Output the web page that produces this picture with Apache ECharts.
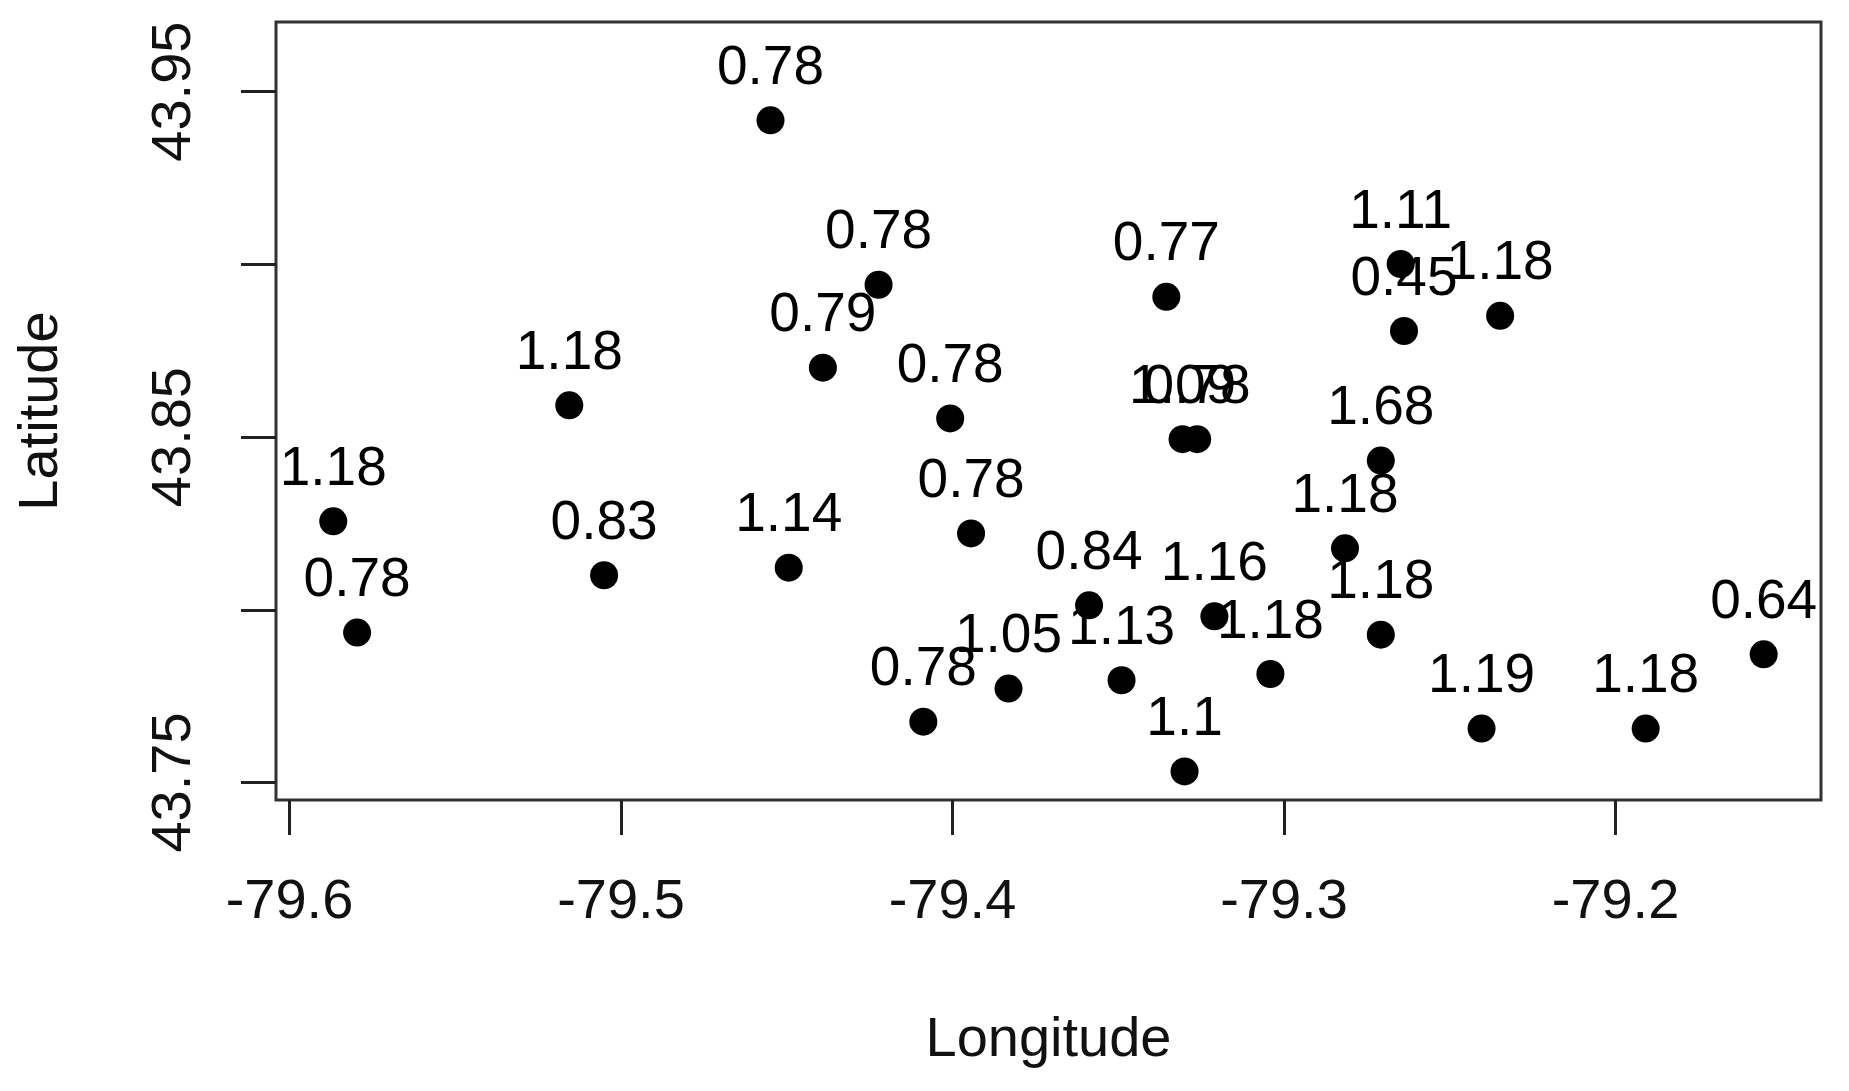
<!DOCTYPE html>
<html>
<head>
<meta charset="utf-8">
<title>Latitude vs Longitude</title>
<script src="https://cdn.jsdelivr.net/npm/echarts@6.0.0/dist/echarts.min.js"></script>
<style>
    html, body {margin: 0; padding: 0; background: #fff;}
    #main {width: 1849px; height: 1091px;}
</style>
</head>
<body>
<div id="main"></div>
<script>
// station positions and the value written above each one
var lon = [-79.4549, -79.4223, -79.4391, -79.5156, -79.4007, -79.5868, -79.5051, -79.4494,
    -79.3944, -79.5796, -79.3355, -79.3306, -79.3262, -79.3588, -79.3210, -79.3831,
    -79.3490, -79.4088, -79.3300, -79.3041, -79.2648, -79.2638, -79.2348, -79.2708,
    -79.2816, -79.2708, -79.2404, -79.1909, -79.1553];
var lat = [43.9417, 43.8941, 43.8701, 43.8592, 43.8554, 43.8256, 43.8100, 43.8122,
    43.8221, 43.7934, 43.8906, 43.8494, 43.8494, 43.8013, 43.7981, 43.7772,
    43.7796, 43.7676, 43.7532, 43.7814, 43.9001, 43.8807, 43.8851, 43.8432,
    43.8178, 43.7928, 43.7656, 43.7656, 43.7871];
var vals = ['0.78', '0.78', '0.79', '1.18', '0.78', '1.18', '0.83', '1.14',
    '0.78', '0.78', '0.77', '1.09', '0.78', '0.84', '1.16', '1.05',
    '1.13', '0.78', '1.1', '1.18', '1.11', '0.45', '1.18', '1.68',
    '1.18', '1.18', '1.19', '1.18', '0.64'];

var xTicks = [-79.6, -79.5, -79.4, -79.3, -79.2];
var yTicks = [43.75, 43.80, 43.85, 43.90, 43.95];
var yLabels = [43.75, 43.85, 43.95];

var FONT = 'Liberation Sans, Arial, sans-serif';

var points = [];
for (var i = 0; i < lon.length; i++) {
    points.push([lon[i], lat[i], vals[i]]);
}

var chart = echarts.init(document.getElementById('main'));

option = {
    animation: false,
    backgroundColor: '#fff',
    grid: {
        left: 276,
        right: 28,
        top: 22,
        bottom: 291,
        show: true,
        borderColor: '#333',
        borderWidth: 3
    },
    xAxis: {
        type: 'value',
        min: -79.60407,
        max: -79.13801,
        name: 'Longitude',
        nameLocation: 'middle',
        nameGap: 213,
        nameTextStyle: {fontSize: 56, color: '#111', fontFamily: FONT},
        axisLine: {show: false},
        splitLine: {show: false},
        axisTick: {
            show: true,
            length: 35,
            customValues: xTicks,
            lineStyle: {color: '#222', width: 3}
        },
        axisLabel: {
            customValues: xTicks,
            margin: 75,
            fontSize: 56,
            color: '#111',
            fontFamily: FONT,
            formatter: function (v) { return v.toFixed(1); }
        }
    },
    yAxis: {
        type: 'value',
        min: 43.74493,
        max: 43.97016,
        name: 'Latitude',
        nameLocation: 'middle',
        nameGap: 206,
        nameRotate: 90,
        nameTextStyle: {fontSize: 56, color: '#111', fontFamily: FONT},
        axisLine: {show: false},
        splitLine: {show: false},
        axisTick: {
            show: true,
            length: 35,
            customValues: yTicks,
            lineStyle: {color: '#222', width: 3}
        },
        axisLabel: {
            customValues: yLabels,
            rotate: 90,
            margin: 73,
            fontSize: 56,
            color: '#111',
            fontFamily: FONT,
            formatter: function (v) { return v.toFixed(2); }
        }
    },
    series: [{
        type: 'scatter',
        data: points,
        symbol: 'circle',
        symbolSize: 28,
        itemStyle: {color: '#000', opacity: 1},
        label: {
            show: true,
            position: 'top',
            distance: 10,
            fontSize: 55,
            color: '#000',
            opacity: 1,
            fontFamily: FONT,
            formatter: function (p) { return p.value[2]; }
        }
    }]
};

chart.setOption(option);
</script>
</body>
</html>
